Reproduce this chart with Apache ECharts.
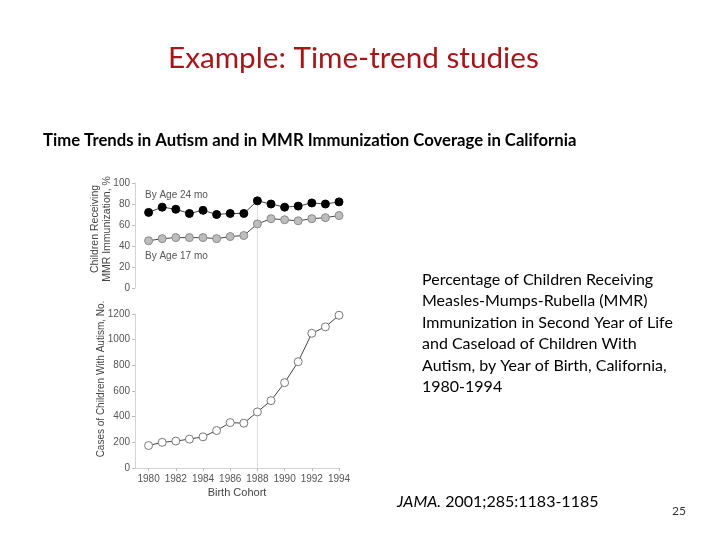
<!DOCTYPE html>
<html><head><meta charset="utf-8">
<script src="https://cdn.jsdelivr.net/npm/echarts@6/dist/echarts.min.js"></script>
<style>html,body{margin:0;padding:0;background:#fff}#c{width:720px;height:540px}</style>
</head><body><div id="c"></div>
<script>
const years = [1980,1981,1982,1983,1984,1985,1986,1987,1988,1989,1990,1991,1992,1993,1994];
const mmr24 = [72,77,75,71,74,70,71,71,83,80,77,78,81,80,82];
const mmr17 = [45,47,48,48,48,47,49,50,61,66,65,64,66,67,69];
const autism = [175,200,210,225,243,292,354,349,437,525,665,828,1050,1100,1190];
const xTicks = [1980,1982,1984,1986,1988,1990,1992,1994];
const refYear = 1988;

const pair = (ys) => years.map((y,i)=>[y, ys[i]]);
const F = 'Liberation Sans, Arial, sans-serif';
const T = 'Lato, Open Sans, sans-serif';
const chart = echarts.init(document.getElementById('c'));
const axisGray = '#d4d4d4';
const labelGray = '#555';
const plain = v => String(v);
chart.setOption({
  animation:false,
  backgroundColor:'#fff',
  title:[
    {text:'Example: Time-trend studies', left:163, top:38,
     textStyle:{fontFamily:T, fontWeight:'normal', fontSize:29.7, color:'#A3161A'}},
    {text:'Time Trends in Autism and in MMR Immunization Coverage in California', left:38, top:127,
     textStyle:{fontFamily:T, fontWeight:'bold', fontSize:16.7, color:'#000'}},
    {text:'Percentage of Children Receiving\nMeasles-Mumps-Rubella (MMR)\nImmunization in Second Year of Life\nand Caseload of Children With\nAutism, by Year of Birth, California,\n1980-1994', left:417, top:264,
     textStyle:{fontFamily:T, fontWeight:'normal', fontSize:16, lineHeight:21.5, color:'#000'}},
    {text:'{i|JAMA.} 2001;285:1183-1185', left:392, top:489,
     textStyle:{fontFamily:T, fontWeight:'normal', fontSize:16, color:'#000',
       rich:{i:{fontStyle:'italic', fontWeight:'normal', fontFamily:T, fontSize:16, color:'#000'}}}},
    {text:'25', left:667, top:500, textStyle:{fontFamily:T, fontWeight:'normal', fontSize:12, color:'#333'}}
  ],
  grid:[
    {left:135, top:183, width:204, height:105, containLabel:false},
    {left:135, top:314, width:204, height:154, containLabel:false},
    {left:135, top:198, width:204, height:270, containLabel:false}
  ],
  xAxis:[
    {gridIndex:0, type:'value', min:1979, max:1994, show:false},
    {gridIndex:1, type:'value', min:1979, max:1994,
     axisLine:{lineStyle:{color:axisGray}}, splitLine:{show:false},
     axisTick:{customValues:xTicks, length:3, lineStyle:{color:'#bbb'}},
     axisLabel:{customValues:xTicks, formatter:plain, color:labelGray, fontFamily:F, fontSize:10, margin:6},
     name:'Birth Cohort', nameLocation:'middle', nameGap:19,
     nameTextStyle:{color:'#444', fontFamily:F, fontSize:11}},
    {gridIndex:2, type:'value', min:1979, max:1994, show:false}
  ],
  yAxis:[
    {gridIndex:0, type:'value', min:0, max:100, interval:20,
     axisLine:{show:true, lineStyle:{color:axisGray}}, splitLine:{show:false},
     axisTick:{show:true, length:3, lineStyle:{color:'#bbb'}},
     axisLabel:{formatter:plain, color:labelGray, fontFamily:F, fontSize:10, margin:5}},
    {gridIndex:1, type:'value', min:0, max:1200, interval:200,
     axisLine:{show:true, lineStyle:{color:axisGray}}, splitLine:{show:false},
     axisTick:{show:true, length:3, lineStyle:{color:'#bbb'}},
     axisLabel:{formatter:plain, color:labelGray, fontFamily:F, fontSize:10, margin:5}},
    {gridIndex:2, type:'value', min:0, max:1, show:false}
  ],
  graphic:[
    {type:'text', x:101, y:229, rotation:Math.PI/2, style:{text:'Children Receiving\nMMR Immunization, %', align:'center', verticalAlign:'middle', fill:'#444', font:'10.5px '+F, lineHeight:12}},
    {type:'text', x:101, y:379, rotation:Math.PI/2, style:{text:'Cases of Children With Autism, No.', align:'center', verticalAlign:'middle', fill:'#444', font:'10px '+F}},
    {type:'text', x:145, y:195, style:{text:'By Age 24 mo', align:'left', verticalAlign:'middle', fill:'#555', font:'10px '+F}},
    {type:'text', x:145, y:256, style:{text:'By Age 17 mo', align:'left', verticalAlign:'middle', fill:'#555', font:'10px '+F}}
  ],
  series:[
    {type:'line', xAxisIndex:2, yAxisIndex:2, data:[[refYear,0],[refYear,1]], symbol:'none', silent:true, z:1,
     lineStyle:{color:'#dcdcdc', width:1}},
    {name:'By Age 24 mo', type:'line', xAxisIndex:0, yAxisIndex:0, data:pair(mmr24), symbol:'circle', symbolSize:8, z:5,
     lineStyle:{color:'#444', width:1}, itemStyle:{color:'#000', borderColor:'#000', borderWidth:1}},
    {name:'By Age 17 mo', type:'line', xAxisIndex:0, yAxisIndex:0, data:pair(mmr17), symbol:'circle', symbolSize:8, z:5,
     lineStyle:{color:'#444', width:1}, itemStyle:{color:'#bdbdbd', borderColor:'#8a8a8a', borderWidth:1}},
    {name:'Autism', type:'line', xAxisIndex:1, yAxisIndex:1, data:pair(autism), symbol:'circle', symbolSize:8, z:5,
     lineStyle:{color:'#444', width:1}, itemStyle:{color:'#fff', borderColor:'#777', borderWidth:1}}
  ]
});
</script></body></html>
